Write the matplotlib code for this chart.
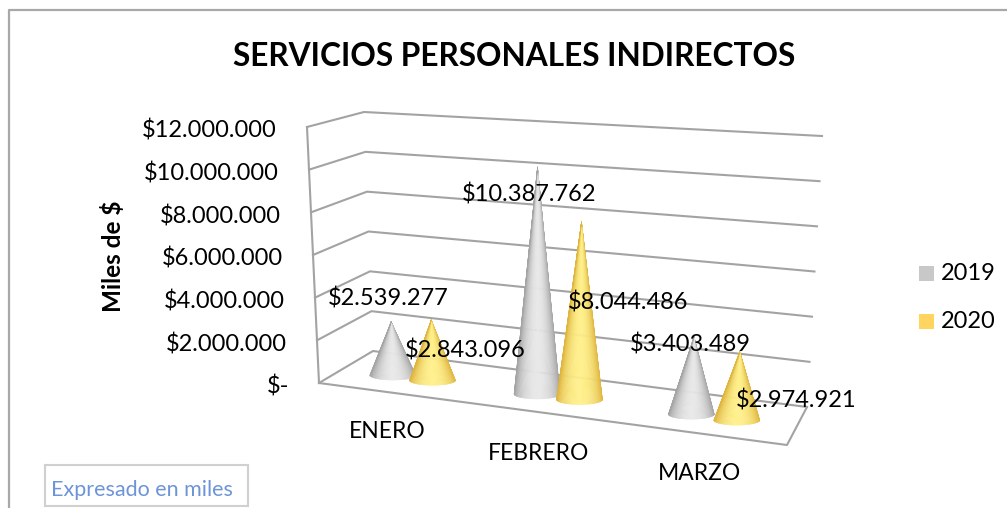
import matplotlib
matplotlib.use('Agg')
import matplotlib.pyplot as plt
import numpy as np
from matplotlib.collections import PolyCollection
from matplotlib.colors import to_rgb
from matplotlib.patches import Rectangle

plt.rcParams['font.family'] = ['Lato', 'DejaVu Sans']

months = ['ENERO', 'FEBRERO', 'MARZO']
series_names = ['2019', '2020']
values_2019 = [2539277, 10387762, 3403489]
values_2020 = [2843096, 8044486, 2974921]
y_ticks = [0, 2000000, 4000000, 6000000, 8000000, 10000000, 12000000]
title = 'SERVICIOS PERSONALES INDIRECTOS'
y_label = 'Miles de $'
note = 'Expresado en miles'

# pixel corners of the 3d box: front left, back left, back right, front right
FLOOR = np.array([[319, 383], [373, 351], [807, 407], [787, 445]], float)
TOP = np.array([[307, 127], [364, 112], [822, 136], [803, 157]], float)
Y_MAX = 12000000
GRID = '#a3a3a3'
TEXT_FS = 17


def project(u, v, val):
    # u along the months, v into the depth, val in pesos
    bottom = (1 - u) * ((1 - v) * FLOOR[0] + v * FLOOR[1]) + u * ((1 - v) * FLOOR[3] + v * FLOOR[2])
    top = (1 - u) * ((1 - v) * TOP[0] + v * TOP[1]) + u * ((1 - v) * TOP[3] + v * TOP[2])
    return bottom + (top - bottom) * val / Y_MAX


def month_pos(i, offset):
    # slight perspective along the floor
    t = (i + 0.5) / len(months) + offset
    return t / (t + 1.107 * (1 - t))


def cone(ax, x, val, light, dark):
    base = project(x, 0.45, 0)
    apex = project(x, 0.45, val)
    rx, ry = 23, 5
    ang = np.linspace(0, np.pi, 61)
    polys, colors = [], []
    for a0, a1 in zip(ang[:-1], ang[1:]):
        p0 = base + [rx * np.cos(a0), ry * np.sin(a0)]
        p1 = base + [rx * np.cos(a1), ry * np.sin(a1)]
        polys.append([apex, p0, p1])
        s = np.sin((a0 + a1) / 2) ** 1.6
        colors.append(np.array(to_rgb(dark)) * (1 - s) + np.array(to_rgb(light)) * s)
    ax.add_collection(PolyCollection(polys, facecolors=colors, edgecolors=colors, linewidths=0.3, zorder=3))


fig = plt.figure(figsize=(10.07, 5.08), dpi=100)
ax = fig.add_axes([0, 0, 1, 1])
ax.set_xlim(0, 1007)
ax.set_ylim(508, 0)
ax.axis('off')

# chart frame, open at the bottom
ax.plot([9, 9, 1006], [508, 10, 10], color='#a8a8a8', lw=1.6, zorder=1)

# walls and floor
for tick in y_ticks:
    pts = np.array([project(0, 0, tick), project(0, 1, tick), project(1, 1, tick)])
    ax.plot(pts[:, 0], pts[:, 1], color=GRID, lw=1.5, zorder=2)
    ax.text(pts[0, 0] - 30, pts[0, 1] + 4, '$-' if tick == 0 else f'${tick:,}'.replace(',', '.'),
            ha='right', va='center', fontsize=TEXT_FS, color='black', zorder=5)
wall = np.array([project(0, 0, 0), project(0, 0, Y_MAX)])
ax.plot(wall[:, 0], wall[:, 1], color=GRID, lw=1.5, zorder=2)
floor = np.array([project(0, 0, 0), project(1, 0, 0), project(1, 1, 0)])
ax.plot(floor[:, 0], floor[:, 1], color=GRID, lw=1.5, zorder=2)

# cones, 2019 behind 2020
for i, month in enumerate(months):
    cone(ax, month_pos(i, -0.047), values_2019[i], '#e8e8e8', '#a4a4a4')
    cone(ax, month_pos(i, 0.047), values_2020[i], '#fff08a', '#dfb53f')

# data labels
label_xy_2019 = [(388, 299), (529, 195), (690, 345)]
label_xy_2020 = [(465, 350), (628, 302), (796, 401)]
for vals, spots in zip([values_2019, values_2020], [label_xy_2019, label_xy_2020]):
    for v, (lx, ly) in zip(vals, spots):
        ax.text(lx, ly, f'${v:,}'.replace(',', '.'), ha='center', va='center',
                fontsize=TEXT_FS, color='black', zorder=6)

month_xy = [(387, 432), (539, 453), (700, 474)]
for month, (mx, my) in zip(months, month_xy):
    ax.text(mx, my, month, ha='center', va='center', fontsize=16.5, color='black', zorder=5)

ax.text(514.5, 57, title, ha='center', va='center', fontsize=22.8, fontweight='bold', color='black')
ax.text(113, 256, y_label, ha='center', va='center', rotation=90, fontsize=17.5, fontweight='bold', color='black')

# legend
for name, col, ly in zip(series_names, ['#c8c8c8', '#ffd45f'], [273.5, 321.5]):
    ax.add_patch(Rectangle((919, ly - 7.5), 15, 15, facecolor=col, edgecolor='none'))
    ax.text(941, ly, name, ha='left', va='center', fontsize=TEXT_FS, color='black')

# note box
ax.add_patch(Rectangle((45, 465), 203, 41, facecolor='white', edgecolor='#d0d0d0', lw=1.5, zorder=4))
ax.text(51, 490, note, ha='left', va='center', fontsize=15.5, color='#6d94d8', zorder=5)

fig.savefig('out.png', dpi=100)
